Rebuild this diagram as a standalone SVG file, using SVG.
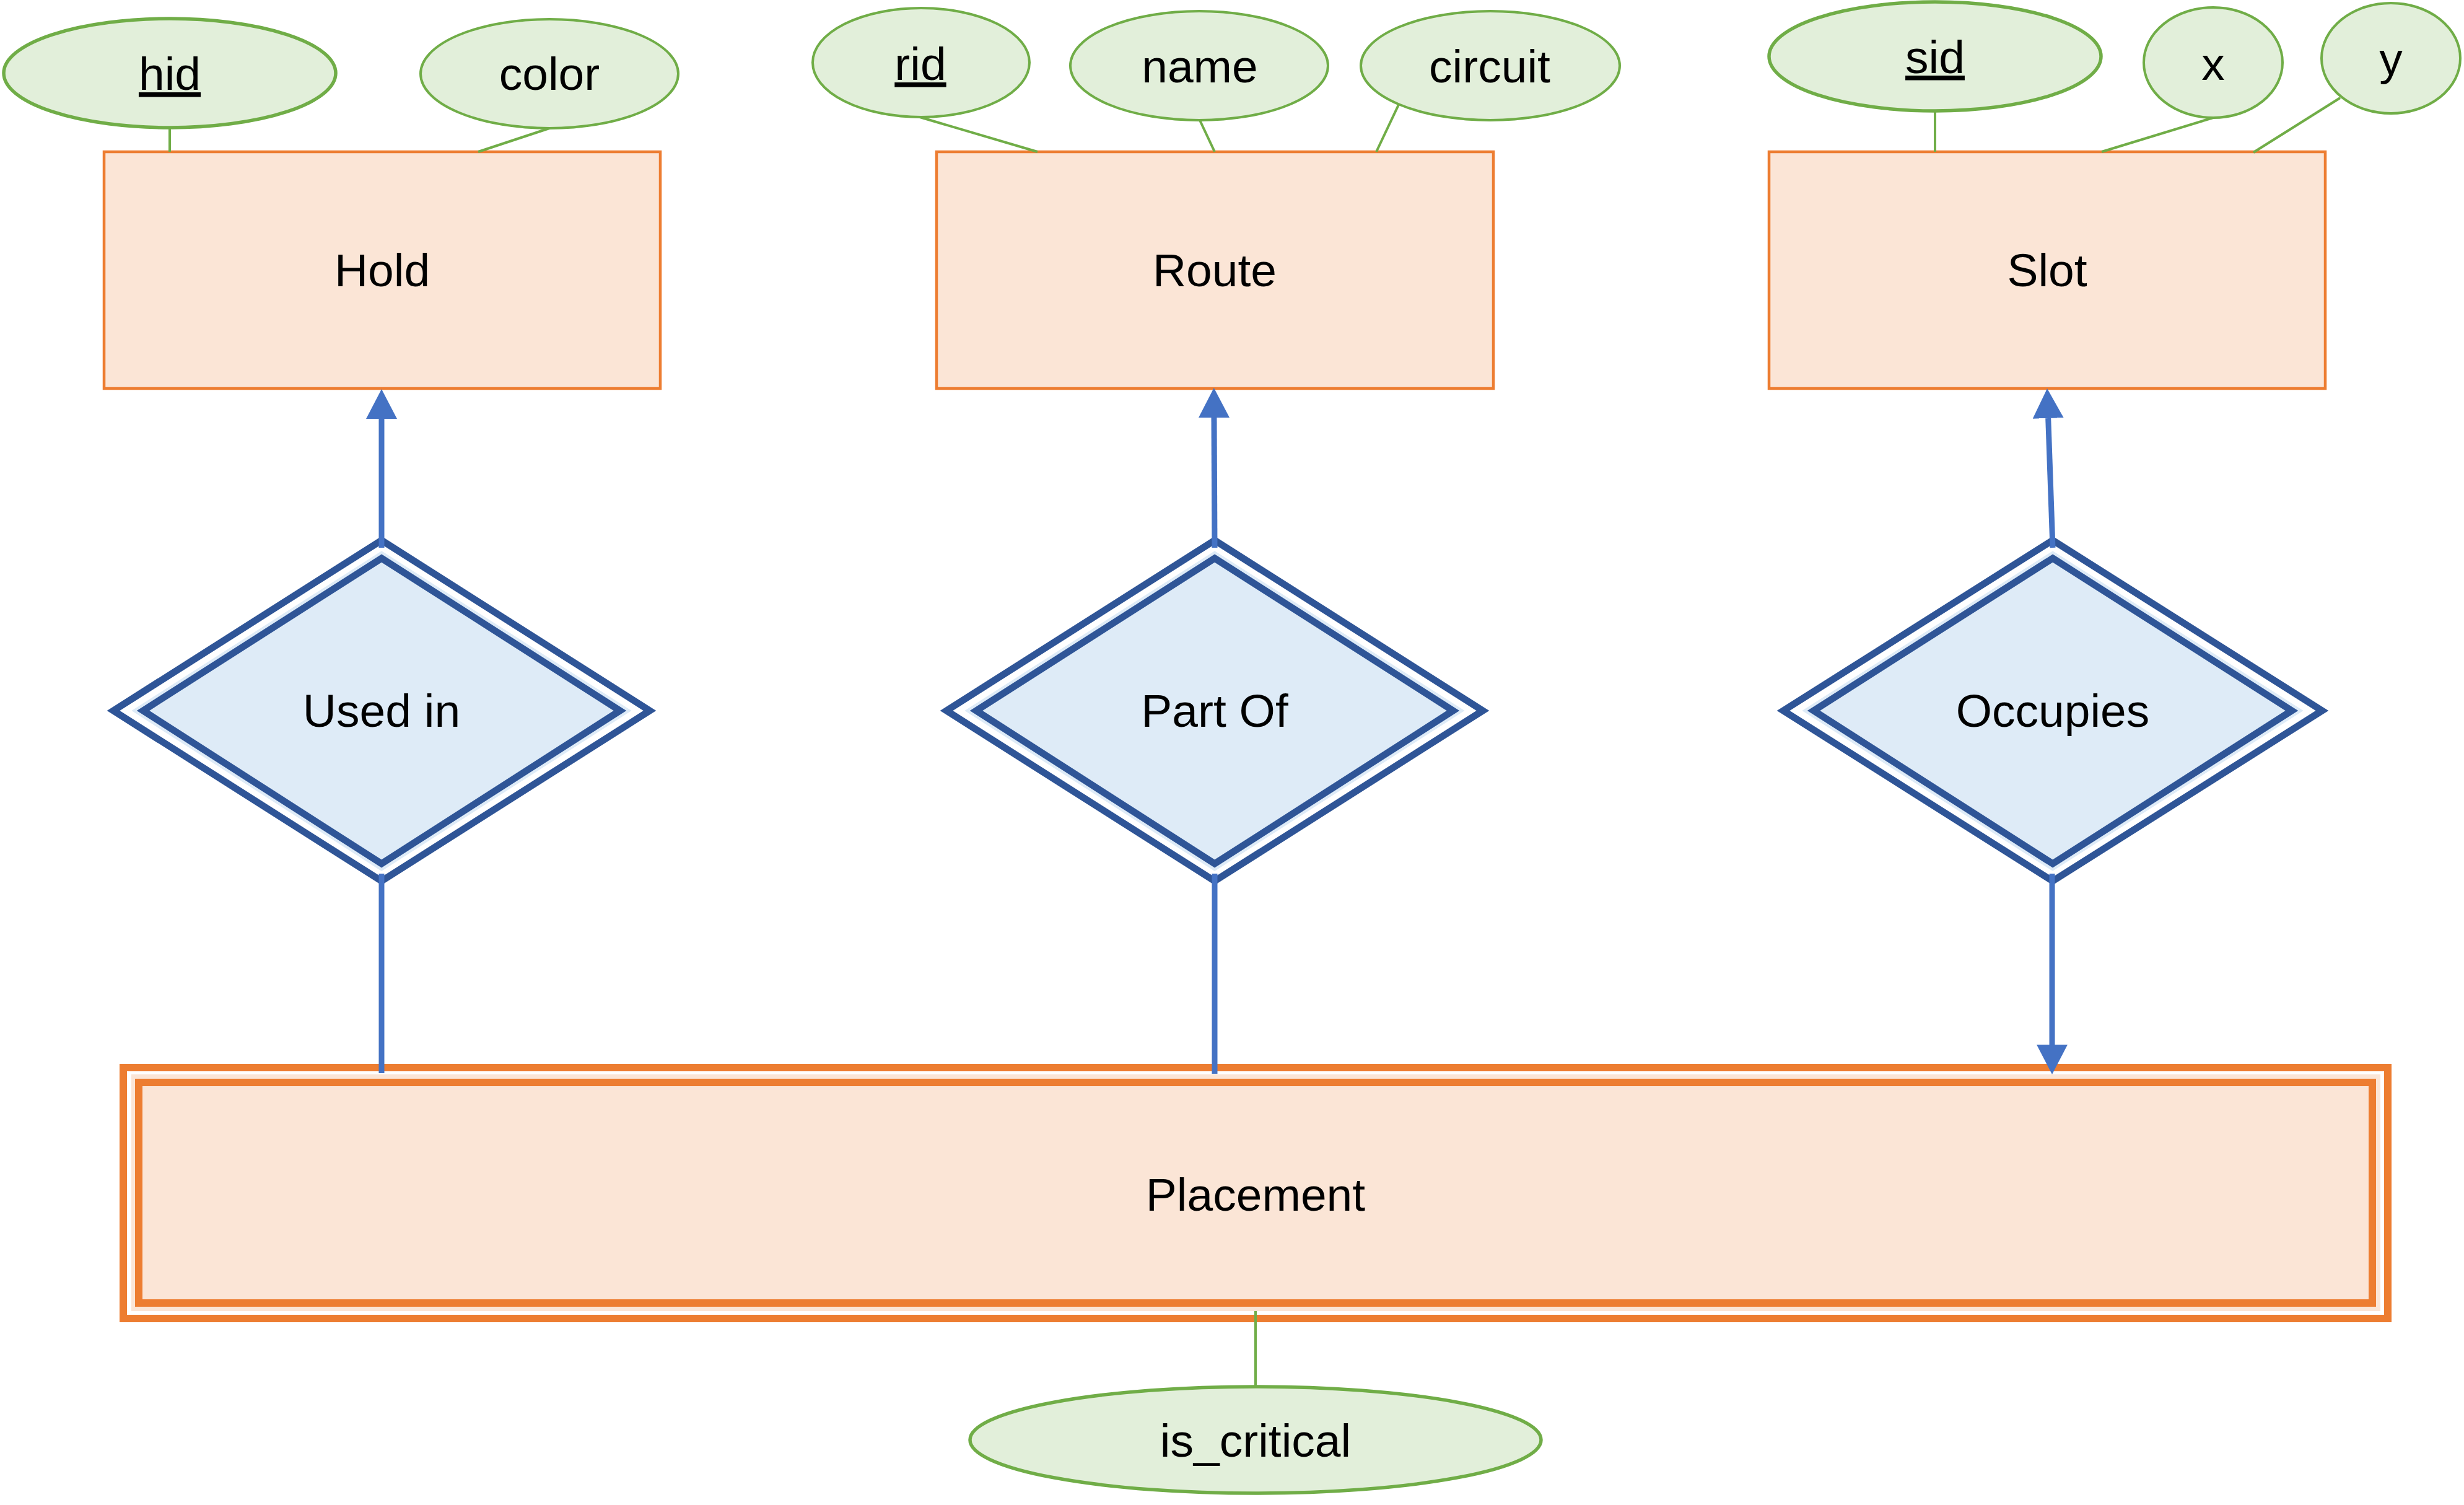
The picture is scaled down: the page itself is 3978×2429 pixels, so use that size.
<svg xmlns="http://www.w3.org/2000/svg" width="3978" height="2429" viewBox="0 0 3978 2429">
<defs>
<style>
.ent{fill:#FBE5D6;stroke:#ED7D31;stroke-width:4.5}
.attr{fill:#E2EFDA;stroke:#70AD47;stroke-width:4}
.key{stroke-width:5.5}
.txt{font-family:"Liberation Sans",Arial,sans-serif;font-size:75px;fill:#000;text-anchor:middle}
.ul{text-decoration:underline}
.dout{fill:#FFFFFF;stroke:#2F5597;stroke-width:11;stroke-linejoin:miter}
.dhalo{fill:#DEEBF7;stroke:#DEEBF7;stroke-width:20}
.din{fill:#DEEBF7;stroke:#2F5597;stroke-width:11;stroke-linejoin:miter}
.rel{stroke:#4472C4;stroke-width:9;fill:none}
.al{stroke:#70AD47;stroke-width:4;fill:none}
.wk{fill:none;stroke:#ED7D31;stroke-width:12}
</style>
<marker id="arr" viewBox="0 0 48 50" refX="0" refY="25" markerWidth="48" markerHeight="50" markerUnits="userSpaceOnUse" orient="auto">
<path d="M0,0 L48,25 L0,50 Z" fill="#4472C4"/>
</marker>
</defs>
<rect width="3978" height="2429" fill="#FFFFFF"/>

<g id="hold">
<rect class="ent" x="168" y="245" width="898" height="382"/>
<text class="txt" x="617" y="462">Hold</text>
</g>
<g id="route">
<rect class="ent" x="1512" y="245" width="899" height="382"/>
<text class="txt" x="1961" y="462">Route</text>
</g>
<g id="slot">
<rect class="ent" x="2856" y="245" width="898" height="382"/>
<text class="txt" x="3305" y="462">Slot</text>
</g>

<g id="attr-hid">
<ellipse class="attr key" cx="274" cy="118" rx="268" ry="88"/>
<text class="txt ul" x="274" y="145">hid</text>
</g>
<g id="attr-color">
<ellipse class="attr" cx="887" cy="119" rx="208" ry="88"/>
<text class="txt" x="887" y="145">color</text>
</g>
<g id="attr-rid">
<ellipse class="attr" cx="1487" cy="101" rx="175" ry="88"/>
<text class="txt ul" x="1486" y="129">rid</text>
</g>
<g id="attr-name">
<ellipse class="attr" cx="1936" cy="106" rx="208" ry="88"/>
<text class="txt" x="1937" y="133">name</text>
</g>
<g id="attr-circuit">
<ellipse class="attr" cx="2406" cy="106" rx="209" ry="88"/>
<text class="txt" x="2405" y="133">circuit</text>
</g>
<g id="attr-sid">
<ellipse class="attr key" cx="3124" cy="91" rx="268" ry="88"/>
<text class="txt ul" x="3124" y="118">sid</text>
</g>
<g id="attr-x">
<ellipse class="attr" cx="3573" cy="101" rx="112" ry="89"/>
<text class="txt" x="3573" y="129">x</text>
</g>
<g id="attr-y">
<ellipse class="attr" cx="3860" cy="94" rx="112" ry="89"/>
<text class="txt" x="3860" y="121">y</text>
</g>

<g id="rel-usedin">
<polygon class="dout" points="616,872 1049,1147 616,1422 183,1147"/>
<polygon class="dhalo" points="616,901 1001,1147 616,1394 231,1147"/>
<polygon class="din" points="616,901 1001,1147 616,1394 231,1147"/>
<text class="txt" x="616" y="1173">Used in</text>
</g>
<g id="rel-partof">
<polygon class="dout" points="1961,872 2394,1147 1961,1422 1528,1147"/>
<polygon class="dhalo" points="1961,901 2346,1147 1961,1394 1576,1147"/>
<polygon class="din" points="1961,901 2346,1147 1961,1394 1576,1147"/>
<text class="txt" x="1961" y="1173">Part Of</text>
</g>
<g id="rel-occupies">
<polygon class="dout" points="3314,872 3749,1147 3314,1422 2879,1147"/>
<polygon class="dhalo" points="3314,901 3700,1147 3314,1394 2928,1147"/>
<polygon class="din" points="3314,901 3700,1147 3314,1394 2928,1147"/>
<text class="txt" x="3314" y="1173">Occupies</text>
</g>

<g id="placement">
<rect x="199" y="1723" width="3656" height="405" fill="#FFFFFF" stroke="none"/>
<rect x="212" y="1734" width="3631" height="382" fill="#FBE5D6"/>
<rect class="wk" x="199" y="1723" width="3656" height="405"/>
<rect class="wk" x="224" y="1747" width="3606" height="356" fill="#FBE5D6"/>
<text class="txt" x="2027" y="1954">Placement</text>
</g>

<g id="attr-is_critical">
<ellipse class="attr key" cx="2027" cy="2324" rx="461" ry="86"/>
<text class="txt" x="2027" y="2351">is_critical</text>
</g>

<g id="connectors">
<line class="al" x1="274" y1="206" x2="274" y2="245"/>
<line class="al" x1="887" y1="207" x2="772" y2="245"/>
<line class="al" x1="1485" y1="189" x2="1675" y2="245"/>
<line class="al" x1="1937" y1="194" x2="1961" y2="245"/>
<line class="al" x1="2258" y1="169" x2="2222" y2="245"/>
<line class="al" x1="3124" y1="179" x2="3124" y2="245"/>
<line class="al" x1="3573" y1="190" x2="3393" y2="245"/>
<line class="al" x1="3778" y1="158" x2="3638" y2="246"/>
<line class="al" x1="2027" y1="2116" x2="2027" y2="2238"/>
<line class="rel" x1="616" y1="884" x2="616" y2="676" marker-end="url(#arr)"/>
<line class="rel" x1="1961" y1="884" x2="1960" y2="674" marker-end="url(#arr)"/>
<line class="rel" x1="3314" y1="884" x2="3306.7" y2="675" marker-end="url(#arr)"/>
<line class="rel" x1="3313" y1="1410" x2="3313" y2="1686" marker-end="url(#arr)"/>
<line class="rel" x1="616" y1="1410" x2="616" y2="1732"/>
<line class="rel" x1="1961" y1="1410" x2="1961" y2="1733"/>
</g>
</svg>
